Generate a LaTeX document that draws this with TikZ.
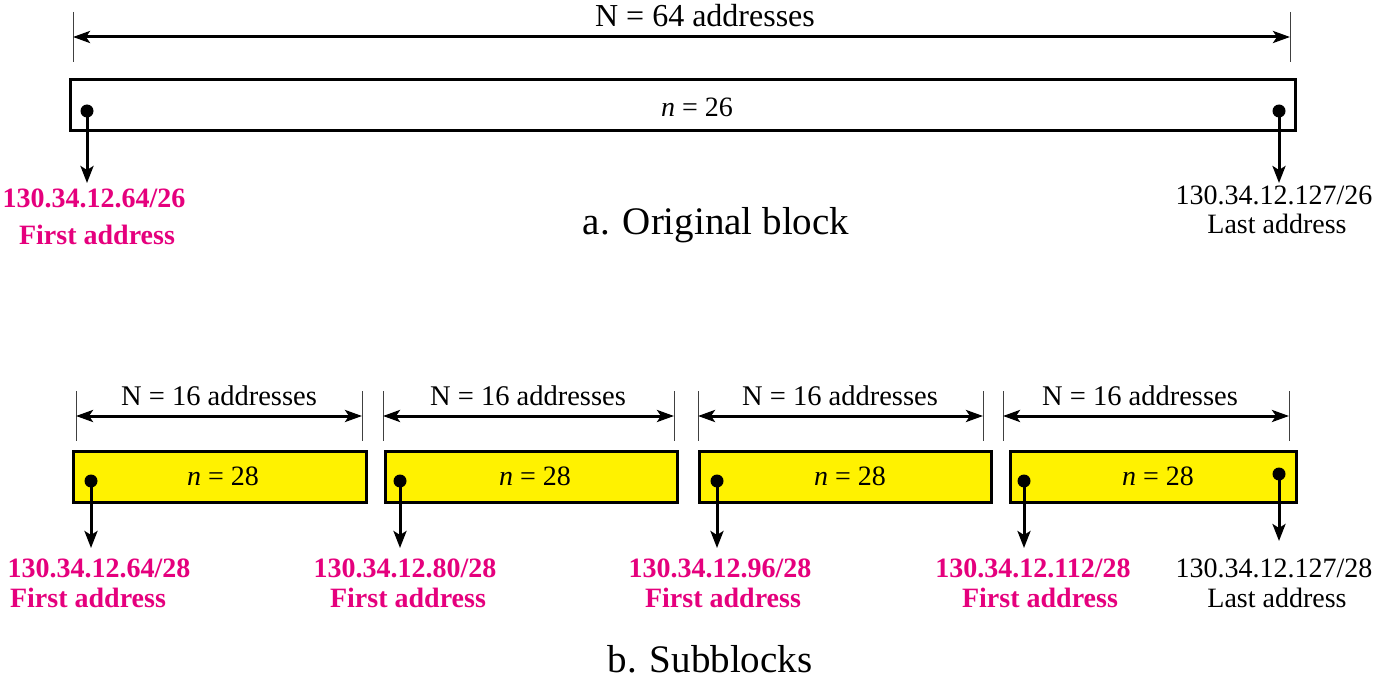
\documentclass[tikz,border=0pt]{standalone}
\usepackage{fontspec}
\setmainfont{Liberation Serif}[Ligatures=TeX]
\newfontfamily\tnr{Liberation Serif}
\usetikzlibrary{arrows.meta}
\definecolor{pinkc}{RGB}{229,0,125}
\definecolor{yel}{RGB}{255,242,0}
\begin{document}
\begin{tikzpicture}[x=1pt,y=-1pt,
  blk/.style={draw, line width=3pt, inner sep=0pt, outer sep=0pt, minimum height=51pt},
  yblk/.style={blk, fill=yel},
  dotn/.style={circle, fill=black, inner sep=0pt, minimum size=13pt},
  darrow/.style={line width=3pt, -{Stealth[length=17pt,width=13pt,inset=4pt]}},
  dim/.style={line width=3pt, {Stealth[length=17pt,width=12pt,inset=4pt]}-{Stealth[length=17pt,width=12pt,inset=4pt]}},
  tickln/.style={line width=1pt, black!75},
  txt/.style={font=\tnr\fontsize{28}{30}\selectfont, anchor=base, inner sep=0pt},
  btxt/.style={font=\tnr\fontsize{28}{30}\selectfont\bfseries, text=pinkc, anchor=base, inner sep=0pt},
  captxt/.style={font=\tnr\fontsize{39}{42}\selectfont, anchor=base, inner sep=0pt}]
\useasboundingbox (0,0) rectangle (1374,687);

% ---------- a. Original block ----------
\coordinate (tl1) at (73,12);  \coordinate (tl2) at (73,62);
\coordinate (tr1) at (1290,12); \coordinate (tr2) at (1290,62);
\draw[tickln] (tl1) -- (tl2);
\draw[tickln] (tr1) -- (tr2);
\coordinate (dl) at (73,37); \coordinate (dr) at (1290,37);
\draw[dim] (dl) -- (dr);
\node[txt, font=\tnr\fontsize{32}{34}\selectfont] (N64) at (705,27) {N = 64 addresses};

\node[blk, minimum width=1225pt] (orig) at (683,105) {};
\node[txt] (n26) at (697,117) {\textit{n} = 26};

\node[dotn] (d1) at (87,111) {};
\node[dotn] (d2) at (1279,111) {};
\coordinate (e1) at (87,183);
\coordinate (e2) at (1279,183);
\draw[darrow] (d1.center) -- (e1);
\draw[darrow] (d2.center) -- (e2);

\node[btxt] (fa1) at (94,208) {130.34.12.64/26};
\node[btxt] (fa1b) at (97,245) {First address};
\node[txt] (la1) at (1274,205) {130.34.12.127/26};
\node[txt] (la1b) at (1277,234) {Last address};

\node[captxt] (capa) at (716,235) {a. Original block};

% ---------- b. Subblocks ----------
\foreach \a/\b/\c [count=\i] in {76/362/219, 383/674/528, 698/983/840, 1003/1289/1140}{
  \coordinate (s\i t1) at (\a,391); \coordinate (s\i t2) at (\a,441);
  \coordinate (s\i u1) at (\b,391); \coordinate (s\i u2) at (\b,441);
  \draw[tickln] (s\i t1) -- (s\i t2);
  \draw[tickln] (s\i u1) -- (s\i u2);
  \coordinate (s\i l) at (\a,416); \coordinate (s\i r) at (\b,416);
  \draw[dim] (s\i l) -- (s\i r);
  \node[txt, font=\tnr\fontsize{28.5}{30}\selectfont] (N16\i) at (\c,405) {N = 16 addresses};
}

\node[yblk, minimum width=293pt] (b1) at (220,477) {};
\node[yblk, minimum width=292pt] (b2) at (531.5,477) {};
\node[yblk, minimum width=292pt] (b3) at (845.5,477) {};
\node[yblk, minimum width=286pt] (b4) at (1153.5,477) {};

\node[txt] (n1) at (223,485) {\textit{n} = 28};
\node[txt] (n2) at (535,485) {\textit{n} = 28};
\node[txt] (n3) at (850,485) {\textit{n} = 28};
\node[txt] (n4) at (1158,485) {\textit{n} = 28};

\node[dotn] (q1) at (91,481) {};
\node[dotn] (q2) at (400,481) {};
\node[dotn] (q3) at (717,481) {};
\node[dotn] (q4) at (1024,481) {};
\node[dotn] (q5) at (1279,474) {};
\coordinate (f1) at (91,548);
\coordinate (f2) at (400,548);
\coordinate (f3) at (717,548);
\coordinate (f4) at (1024,548);
\coordinate (f5) at (1279,541);
\foreach \i in {1,...,5}{ \draw[darrow] (q\i.center) -- (f\i); }

\node[btxt] (a1) at (99,577) {130.34.12.64/28};
\node[btxt] (a1b) at (88,607) {First address};
\node[btxt] (a2) at (405,577) {130.34.12.80/28};
\node[btxt] (a2b) at (408,607) {First address};
\node[btxt] (a3) at (720,577) {130.34.12.96/28};
\node[btxt] (a3b) at (723,607) {First address};
\node[btxt] (a4) at (1033,577) {130.34.12.112/28};
\node[btxt] (a4b) at (1040,607) {First address};
\node[txt] (a5) at (1274,577) {130.34.12.127/28};
\node[txt] (a5b) at (1277,607) {Last address};

\node[captxt] (capb) at (710,672) {b. Subblocks};
\end{tikzpicture}
\end{document}
